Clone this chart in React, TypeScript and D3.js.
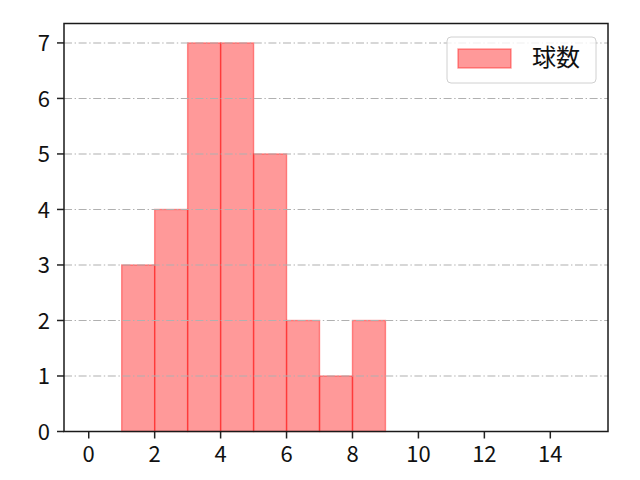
import * as d3 from "d3";

// ── Data ──────────────────────────────────────────────────────
const BIN_STARTS = [1, 2, 3, 4, 5, 6, 7, 8];
const COUNTS = [3, 4, 7, 7, 5, 2, 1, 2];
const BIN_WIDTH = 1;
const X_TICKS = [0, 2, 4, 6, 8, 10, 12, 14];
const Y_TICKS = [0, 1, 2, 3, 4, 5, 6, 7];
const LEGEND_LABEL = "球数";

// ── Geometry ──────────────────────────────────────────────────
const W = 640;
const H = 480;
const PAD = { top: 23.5, right: 32, bottom: 48.5, left: 64 };
const FONT = "'Noto Sans CJK JP', 'DejaVu Sans', sans-serif";
const TICK_FS = 22;

export default function App() {
  const x = d3.scaleLinear().domain([-0.75, 15.75]).range([PAD.left, W - PAD.right]);
  const y = d3.scaleLinear().domain([0, 7.35]).range([H - PAD.bottom, PAD.top]);
  const x0 = PAD.left;
  const x1 = W - PAD.right;
  const y0 = H - PAD.bottom;
  const y1 = PAD.top;

  return (
    <div style={{ position: "fixed", left: 0, top: 0 }}>
      <svg width={W} height={H} style={{ display: "block", background: "#fff" }} fontFamily={FONT}>
        {/* bars */}
        {BIN_STARTS.map((b, i) => (
          <rect
            key={`bar-${b}`}
            x={x(b)}
            y={y(COUNTS[i])}
            width={x(b + BIN_WIDTH) - x(b)}
            height={y(0) - y(COUNTS[i])}
            fill="red"
            fillOpacity={0.4}
            stroke="red"
            strokeOpacity={0.4}
            strokeWidth={1.4}
          />
        ))}

        {/* horizontal grid, drawn over bars */}
        {Y_TICKS.map((t) => (
          <line key={`g-${t}`} x1={x0} x2={x1} y1={y(t)} y2={y(t)}
            stroke="#b0b0b0" strokeWidth={1.1} strokeDasharray="8,2.6,1.4,2.6" />
        ))}

        {/* y ticks */}
        {Y_TICKS.map((t) => (
          <g key={`yt-${t}`}>
            <line x1={x0 - 7} x2={x0} y1={y(t)} y2={y(t)} stroke="#222" strokeWidth={1.5} />
            <text x={50} y={y(t) + 8.5} textAnchor="end" fontSize={TICK_FS} fill="#111">
              {t}
            </text>
          </g>
        ))}

        {/* x ticks */}
        {X_TICKS.map((t) => (
          <g key={`xt-${t}`}>
            <line x1={x(t)} x2={x(t)} y1={y0} y2={y0 + 7} stroke="#222" strokeWidth={1.5} />
            <text x={x(t)} y={462} textAnchor="middle" fontSize={TICK_FS} fill="#111">
              {t}
            </text>
          </g>
        ))}

        {/* spines */}
        <rect x={x0} y={y1} width={x1 - x0} height={y0 - y1} fill="none" stroke="#1a1a1a" strokeWidth={1.5} />

        {/* legend */}
        <g>
          <rect x={447} y={37} width={149} height={46} rx={4} fill="#fff" fillOpacity={0.8}
            stroke="#d0d0d0" strokeWidth={1} />
          <rect x={458} y={49} width={53} height={19} fill="red" fillOpacity={0.4}
            stroke="red" strokeOpacity={0.4} strokeWidth={1.4} />
          <text x={532} y={66} fontSize={24} fill="#111">{LEGEND_LABEL}</text>
        </g>
      </svg>
    </div>
  );
}
